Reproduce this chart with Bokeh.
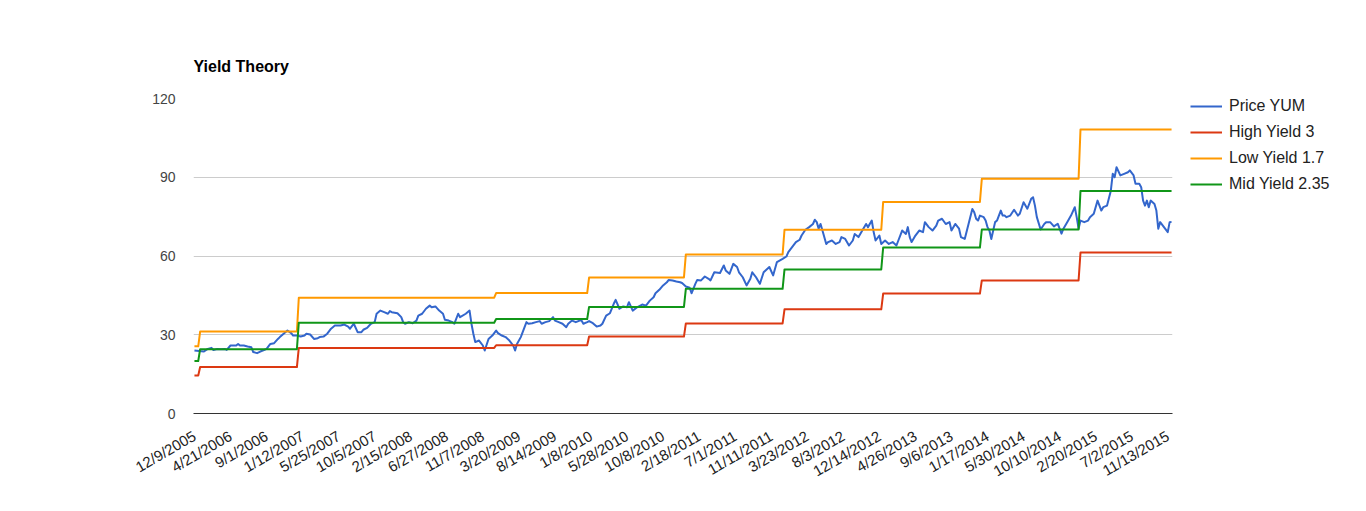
from math import pi
from bokeh.plotting import figure
from bokeh.models import Range1d, FixedTicker, Legend, LegendItem
from bokeh.embed import file_html
from bokeh.resources import INLINE

# ---------------- data ----------------
n_points = 516  # weekly observations, index 0 = 12/9/2005

tick_labels = ["12/9/2005", "4/21/2006", "9/1/2006", "1/12/2007", "5/25/2007",
               "10/5/2007", "2/15/2008", "6/27/2008", "11/7/2008", "3/20/2009",
               "8/14/2009", "1/8/2010", "5/28/2010", "10/8/2010", "2/18/2011",
               "7/1/2011", "11/11/2011", "3/23/2012", "8/3/2012", "12/14/2012",
               "4/26/2013", "9/6/2013", "1/17/2014", "5/30/2014", "10/10/2014",
               "2/20/2015", "7/2/2015", "11/13/2015"]
tick_index = [0, 19, 38, 57, 76, 95, 114, 133, 152, 171, 190, 209, 228, 247,
              266, 285, 304, 323, 342, 361, 380, 399, 418, 437, 456, 475, 494, 513]

price_weeks = [
    0, 5, 7, 9, 10, 12, 14, 16, 17, 19,
    22, 23, 24, 26, 28, 30, 31, 33, 35, 37,
    38, 40, 42, 44, 45, 47, 49, 51, 52, 54,
    56, 58, 59, 61, 63, 65, 66, 68, 70, 72,
    74, 75, 77, 79, 81, 82, 84, 86, 88, 89,
    91, 93, 95, 96, 98, 100, 102, 103, 104, 107,
    109, 110, 111, 113, 115, 117, 118, 120, 122, 124,
    125, 127, 129, 131, 132, 134, 136, 137, 139, 140,
    143, 145, 146, 147, 148, 150, 152, 153, 155, 157,
    159, 160, 162, 164, 166, 168, 169, 170, 172, 174,
    175, 176, 178, 180, 182, 183, 185, 187, 189, 190,
    192, 194, 196, 197, 199, 201, 203, 204, 205, 207,
    208, 210, 212, 214, 215, 217, 219, 221, 222, 224,
    226, 228, 229, 231, 233, 235, 236, 238, 240, 242,
    243, 245, 247, 249, 250, 252, 254, 256, 257, 259,
    261, 262, 264, 265, 267, 269, 271, 272, 274, 277,
    279, 280, 282, 284, 286, 287, 289, 291, 293, 294,
    296, 298, 300, 301, 303, 305, 307, 310, 312, 313,
    315, 317, 319, 320, 322, 324, 326, 327, 328, 329,
    330, 331, 333, 334, 336, 338, 340, 341, 343, 345,
    347, 348, 350, 352, 354, 355, 357, 358, 359, 361,
    362, 364, 366, 368, 370, 371, 373, 375, 376, 377,
    378, 380, 382, 384, 385, 387, 389, 391, 392, 394,
    396, 398, 399, 401, 403, 404, 406, 408, 410, 411,
    412, 413, 414, 416, 417, 418, 419, 420, 421, 422,
    423, 425, 426, 427, 428, 430, 432, 434, 435, 437,
    439, 441, 442, 443, 444, 446, 448, 449, 451, 453,
    455, 457, 458, 460, 462, 464, 465, 466, 467, 469,
    471, 472, 474, 476, 477, 478, 479, 481, 483, 484,
    485, 486, 488, 490, 492, 493, 495, 496, 498, 499,
    500, 501, 502, 503, 504, 506, 507, 508, 509, 511,
    513, 514, 515]
price_values = [
    24.0, 23.6, 24.6, 25.0, 24.2, 24.6, 24.5, 24.6, 24.2, 25.9,
    25.9, 26.5, 25.9, 25.9, 25.5, 25.2, 23.4, 23.0, 23.7, 24.3,
    24.6, 26.5, 26.8, 28.4, 29.1, 30.4, 31.6, 30.6, 29.7, 29.7,
    29.3, 29.7, 30.4, 30.1, 28.4, 28.7, 29.1, 29.3, 30.4, 32.3,
    33.5, 33.5, 33.5, 33.9, 33.1, 32.3, 34.2, 31.0, 31.0, 31.9,
    32.6, 34.2, 34.8, 38.0, 39.2, 38.6, 38.0, 39.0, 38.6, 38.2,
    36.7, 34.8, 34.2, 34.8, 34.4, 35.4, 37.3, 38.0, 39.9, 41.1,
    40.5, 40.8, 39.2, 38.0, 35.7, 35.4, 34.8, 34.2, 38.0, 36.7,
    38.0, 39.2, 34.2, 30.4, 27.2, 27.8, 25.9, 24.0, 28.4, 29.7,
    31.6, 30.6, 29.7, 29.1, 27.8, 25.9, 24.0, 26.5, 29.1, 32.9,
    34.8, 34.2, 34.4, 34.8, 35.2, 34.2, 34.8, 35.2, 36.7, 35.4,
    34.8, 34.2, 32.9, 34.2, 35.4, 34.8, 35.4, 35.4, 34.2, 34.8,
    35.2, 34.4, 33.1, 33.5, 34.2, 37.3, 38.2, 41.8, 43.3, 39.9,
    40.8, 40.5, 42.4, 39.2, 40.3, 41.1, 41.5, 41.1, 43.0, 44.3,
    45.8, 47.1, 48.8, 50.0, 50.9, 50.7, 50.3, 50.0, 49.7, 48.4,
    47.9, 45.8, 49.4, 50.9, 50.7, 52.2, 51.3, 50.7, 53.8, 53.5,
    56.4, 54.5, 53.2, 57.0, 55.8, 53.8, 51.9, 48.8, 51.3, 53.8,
    51.9, 49.4, 53.8, 54.5, 55.8, 52.6, 57.7, 58.9, 59.8, 61.5,
    63.4, 65.3, 66.2, 67.8, 70.0, 71.0, 72.2, 73.8, 72.9, 70.4,
    72.2, 69.7, 64.6, 65.3, 65.9, 64.6, 65.3, 67.2, 66.5, 64.0,
    65.9, 68.4, 67.2, 69.7, 72.2, 71.0, 73.5, 69.1, 65.9, 67.8,
    64.6, 65.9, 64.6, 65.3, 64.0, 65.9, 69.7, 68.4, 71.0, 67.2,
    65.3, 67.8, 69.7, 69.1, 72.9, 71.0, 69.7, 71.6, 73.5, 74.2,
    72.2, 72.9, 69.7, 72.2, 70.4, 67.2, 66.5, 72.2, 77.9, 76.7,
    74.2, 73.5, 75.4, 74.8, 73.5, 71.0, 69.7, 66.5, 69.7, 72.9,
    73.5, 77.3, 75.4, 75.4, 74.8, 75.4, 77.6, 75.4, 76.1, 80.5,
    78.0, 81.8, 82.4, 79.2, 74.8, 70.1, 72.3, 72.9, 72.9, 71.3,
    72.3, 68.5, 70.4, 72.9, 75.4, 78.6, 74.8, 70.4, 73.5, 72.9,
    73.5, 74.8, 76.1, 81.1, 79.2, 77.3, 78.6, 79.2, 84.9, 91.3,
    90.0, 93.8, 90.7, 91.3, 91.9, 92.6, 90.7, 87.5, 87.5, 86.2,
    81.1, 79.2, 81.1, 78.6, 81.1, 79.8, 77.3, 70.4, 72.9, 71.0,
    69.1, 72.9, 73.0]
assert len(price_weeks) == len(price_values)

yield_change_weeks = [0, 3, 55, 159, 208, 259, 311, 363, 415, 467]
high_yield = [14.5, 17.7, 25.0, 26.0, 29.3, 34.3, 39.7, 45.7, 50.7, 61.3]
low_yield = [25.6, 31.2, 44.1, 45.9, 51.8, 60.6, 70.0, 80.6, 89.4, 108.2]
mid_yield = [20.0, 24.5, 34.6, 36.0, 40.6, 47.5, 54.9, 63.2, 70.1, 84.8]

series_names = ["Price YUM", "High Yield 3", "Low Yield 1.7", "Mid Yield 2.35"]
series_colors = ["#3366cc", "#dc3912", "#ff9900", "#109618"]

FONT = "Liberation Sans"


def step_xy(change_weeks, values, last):
    xs, ys = [], []
    bounds = change_weeks[1:] + [last + 1]
    for w0, w1, v in zip(change_weeks, bounds, values):
        xs += [w0, w1 - 1]
        ys += [v, v]
    return xs, ys


p = figure(frame_width=979, frame_height=315,
           x_range=Range1d(-0.5, n_points - 0.5), y_range=Range1d(0, 120),
           output_backend="svg", toolbar_location=None,
           min_border_left=193, min_border_right=10,
           min_border_top=98, min_border_bottom=90)
p.outline_line_color = None
p.background_fill_color = "white"

p.title.text = "Yield Theory"
p.title.text_font = FONT
p.title.text_font_size = "16px"
p.title.text_font_style = "bold"
p.title.text_color = "#000000"
p.title.align = "left"
p.title.standoff = 47

renderers = []
r = p.line(price_weeks, price_values, color=series_colors[0], line_width=2,
           line_join="round")
renderers.append(r)
for vals, col in zip([high_yield, low_yield, mid_yield], series_colors[1:]):
    xs, ys = step_xy(yield_change_weeks, vals, n_points - 1)
    renderers.append(p.line(xs, ys, color=col, line_width=2, line_join="round"))

# axes
p.xgrid.visible = False
p.ygrid.grid_line_color = "#cccccc"
p.ygrid.ticker = FixedTicker(ticks=[30, 60, 90, 120])

p.yaxis.ticker = FixedTicker(ticks=[0, 30, 60, 90, 120])
p.yaxis.axis_line_color = None
p.yaxis.major_tick_line_color = None
p.yaxis.minor_tick_line_color = None
p.yaxis.major_tick_out = 0
p.yaxis.major_tick_in = 0
p.yaxis.major_label_text_font = FONT
p.yaxis.major_label_text_font_size = "14px"
p.yaxis.major_label_text_color = "#444444"
p.yaxis.major_label_standoff = 18

p.xaxis.ticker = FixedTicker(ticks=tick_index)
p.xaxis.major_label_overrides = {i: s for i, s in zip(tick_index, tick_labels)}
p.xaxis.major_label_orientation = pi / 6
p.xaxis.axis_line_color = "#333333"
p.xaxis.major_tick_line_color = None
p.xaxis.minor_tick_line_color = None
p.xaxis.major_tick_out = 0
p.xaxis.major_tick_in = 0
p.xaxis.major_label_text_font = FONT
p.xaxis.major_label_text_font_size = "15px"
p.xaxis.major_label_text_color = "#222222"
p.xaxis.major_label_standoff = 21

legend = Legend(items=[LegendItem(label=n, renderers=[rr])
                       for n, rr in zip(series_names, renderers)],
                location=(18, 219), padding=0, margin=0, spacing=6,
                glyph_width=32, glyph_height=20, label_height=20,
                label_standoff=7, border_line_color=None,
                background_fill_alpha=0,
                label_text_font=FONT, label_text_font_size="16px",
                label_text_color="#222222")
p.add_layout(legend, "right")

open("out.html", "w").write(file_html(p, INLINE))
